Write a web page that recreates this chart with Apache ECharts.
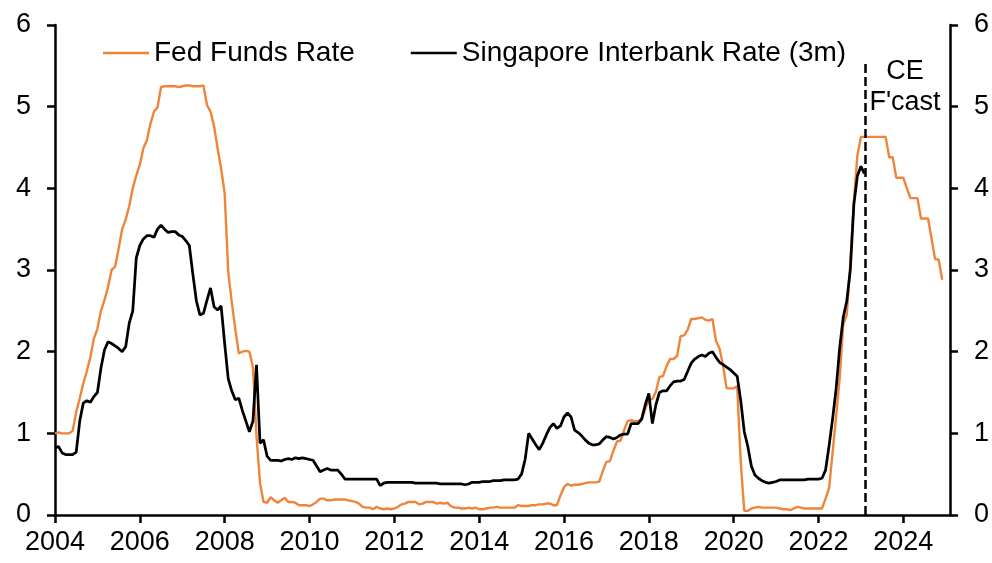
<!DOCTYPE html>
<html><head><meta charset="utf-8">
<script src="https://cdn.jsdelivr.net/npm/echarts@6/dist/echarts.min.js"></script>
<style>html,body{margin:0;padding:0;background:#fff}#c{width:992px;height:563px}</style>
</head><body><div id="c"></div>
<script>
// ---- data (monthly, starting Jan 2004) ----
const startYear = 2004;
const seriesNames = ['Fed Funds Rate', 'Singapore Interbank Rate (3m)'];
const fedFunds = [
  1.00,1.01,1.00,1.00,1.00,1.03,1.26,1.43,1.61,1.76,1.93,2.16,
  2.28,2.50,2.63,2.79,3.00,3.04,3.26,3.50,3.62,3.78,4.00,4.16,
  4.29,4.49,4.59,4.79,4.94,4.99,5.24,5.25,5.25,5.25,5.25,5.24,
  5.25,5.26,5.26,5.25,5.25,5.25,5.26,5.02,4.94,4.76,4.49,4.24,
  3.94,2.98,2.61,2.28,1.98,2.00,2.01,2.00,1.81,0.97,0.39,0.16,
  0.15,0.22,0.18,0.15,0.18,0.21,0.16,0.16,0.15,0.12,0.12,0.12,
  0.11,0.13,0.16,0.20,0.20,0.18,0.18,0.19,0.19,0.19,0.19,0.18,
  0.17,0.16,0.14,0.10,0.09,0.09,0.07,0.10,0.08,0.07,0.08,0.07,
  0.08,0.10,0.13,0.14,0.16,0.16,0.16,0.13,0.14,0.16,0.16,0.16,
  0.14,0.15,0.14,0.15,0.11,0.09,0.09,0.08,0.08,0.09,0.08,0.09,
  0.07,0.07,0.08,0.09,0.09,0.10,0.09,0.09,0.09,0.09,0.09,0.12,
  0.11,0.11,0.11,0.12,0.12,0.13,0.13,0.14,0.14,0.12,0.12,0.24,
  0.34,0.38,0.36,0.37,0.37,0.38,0.39,0.40,0.40,0.40,0.41,0.54,
  0.65,0.66,0.79,0.90,0.91,1.04,1.15,1.16,1.15,1.15,1.16,1.30,
  1.41,1.42,1.51,1.69,1.70,1.82,1.91,1.91,1.95,2.19,2.20,2.27,
  2.40,2.40,2.41,2.42,2.39,2.38,2.40,2.13,2.04,1.83,1.55,1.55,
  1.55,1.58,0.65,0.05,0.05,0.08,0.09,0.10,0.09,0.09,0.09,0.09,
  0.09,0.08,0.07,0.07,0.06,0.08,0.10,0.09,0.08,0.08,0.08,0.08,
  0.08,0.08,0.20,0.33,0.77,1.21,1.68,2.33,2.45,3.08,3.83,4.40,
  4.63,4.63,4.63,4.63,4.63,4.63,4.63,4.63,4.38,4.38,4.13,4.13,
  4.13,4.00,3.88,3.88,3.88,3.63,3.63,3.63,3.38,3.13,3.13,2.88
];
const sibor3m = [
  0.82,0.84,0.76,0.74,0.74,0.74,0.77,1.15,1.37,1.40,1.38,1.45,
  1.50,1.80,2.02,2.12,2.10,2.07,2.04,2.00,2.06,2.35,2.50,3.15,
  3.30,3.38,3.42,3.42,3.40,3.50,3.55,3.50,3.46,3.47,3.47,3.43,
  3.41,3.36,3.30,2.95,2.62,2.45,2.47,2.63,2.78,2.55,2.51,2.56,
  2.10,1.67,1.52,1.41,1.43,1.28,1.15,1.02,1.15,1.84,0.88,0.92,
  0.72,0.67,0.67,0.67,0.66,0.68,0.69,0.68,0.70,0.69,0.70,0.69,
  0.68,0.67,0.60,0.53,0.55,0.57,0.55,0.55,0.55,0.50,0.44,0.44,
  0.44,0.44,0.44,0.44,0.44,0.44,0.44,0.44,0.36,0.39,0.40,0.40,
  0.40,0.40,0.40,0.40,0.40,0.40,0.39,0.39,0.39,0.39,0.39,0.39,
  0.39,0.38,0.38,0.38,0.38,0.38,0.38,0.38,0.37,0.38,0.40,0.40,
  0.40,0.41,0.41,0.41,0.42,0.42,0.42,0.43,0.43,0.43,0.43,0.44,
  0.50,0.68,1.00,0.93,0.86,0.80,0.88,0.98,1.07,1.12,1.06,1.09,
  1.20,1.25,1.20,1.04,1.01,0.97,0.92,0.88,0.86,0.86,0.87,0.92,
  0.96,0.95,0.93,0.95,0.98,0.99,0.99,1.12,1.12,1.12,1.18,1.35,
  1.49,1.12,1.35,1.50,1.52,1.52,1.58,1.63,1.64,1.64,1.66,1.76,
  1.86,1.91,1.94,1.96,1.94,1.98,2.00,1.93,1.87,1.84,1.81,1.78,
  1.74,1.70,1.40,1.02,0.84,0.60,0.49,0.45,0.42,0.40,0.39,0.40,
  0.41,0.43,0.43,0.43,0.43,0.43,0.43,0.43,0.43,0.44,0.44,0.44,
  0.44,0.45,0.55,0.85,1.18,1.55,2.05,2.42,2.62,3.00,3.80,4.15,
  4.27,4.18
];
const xTicks = [2004,2006,2008,2010,2012,2014,2016,2018,2020,2022,2024];
const yTicks = [0,1,2,3,4,5,6];
const forecastStart = 2023.1;
const forecastLineTop = 5.57;
const forecastLabel = "CE\nF'cast";
const forecastLabelPos = [2024.04, 5.24];

// ---- chart ----
const FONT = "'Liberation Sans', Arial, sans-serif";
const ORANGE = '#F0843A';
const toPairs = arr => arr.map((v, i) => [startYear + i / 12, v]);
const chart = echarts.init(document.getElementById('c'), null, {renderer: 'canvas'});

const yAxisBase = (pos) => ({
  type: 'value', position: pos, min: yTicks[0], max: yTicks[yTicks.length - 1], interval: 1,
  axisLine: {show: true, lineStyle: {color: '#000', width: 2.5}},
  axisTick: {show: true, length: 8, inside: false, lineStyle: {color: '#000', width: 2.5}},
  axisLabel: {show: true, margin: 24, fontSize: 27, fontFamily: FONT, color: '#000'},
  splitLine: {show: false}
});

chart.setOption({
  animation: false,
  backgroundColor: '#fff',
  grid: {left: 55, right: 40, top: 25, bottom: 48, containLabel: false},
  legend: {
    left: 103, top: 39, padding: 0, itemGap: 56, itemWidth: 46, itemHeight: 2.5,
    icon: 'rect', selectedMode: false,
    textStyle: {fontSize: 28, fontFamily: FONT, color: '#000', lineHeight: 28},
    data: [
      {name: seriesNames[0], itemStyle: {color: ORANGE}},
      {name: seriesNames[1], itemStyle: {color: '#000'}}
    ]
  },
  xAxis: {
    type: 'value', min: startYear, max: 2025.1, interval: 2,
    axisLine: {show: true, onZero: false, lineStyle: {color: '#000', width: 2.5}},
    axisTick: {show: true, length: 8, inside: false, customValues: xTicks, lineStyle: {color: '#000', width: 2.5}},
    axisLabel: {show: true, customValues: xTicks, margin: 14, fontSize: 27, fontFamily: FONT, color: '#000',
      formatter: v => (xTicks.indexOf(Math.round(v)) >= 0 && Math.abs(v - Math.round(v)) < 1e-6) ? String(Math.round(v)) : ''},
    splitLine: {show: false}
  },
  yAxis: [yAxisBase('left'), yAxisBase('right')],
  series: [
    {
      name: seriesNames[0], type: 'line', data: toPairs(fedFunds), showSymbol: false, symbol: 'none',
      lineStyle: {color: ORANGE, width: 2.4}, itemStyle: {color: ORANGE}, z: 3,
      markLine: {
        silent: true, symbol: 'none', label: {show: false},
        lineStyle: {color: '#000', width: 2.5, type: [9, 4]},
        data: [[{coord: [forecastStart, 0]}, {coord: [forecastStart, forecastLineTop]}]]
      }
    },
    {
      name: seriesNames[1], type: 'line', data: toPairs(sibor3m), showSymbol: false, symbol: 'none',
      lineStyle: {color: '#000', width: 2.75}, itemStyle: {color: '#000'}, z: 4
    }
  ]
});

const p = chart.convertToPixel({xAxisIndex: 0, yAxisIndex: 0}, forecastLabelPos);
chart.setOption({
  graphic: [{
    type: 'text', x: p[0], y: p[1], silent: true,
    style: {text: forecastLabel, align: 'center', verticalAlign: 'middle',
      fontSize: 27, fontFamily: FONT, fill: '#000', lineHeight: 31}
  }]
});
</script>
</body></html>
